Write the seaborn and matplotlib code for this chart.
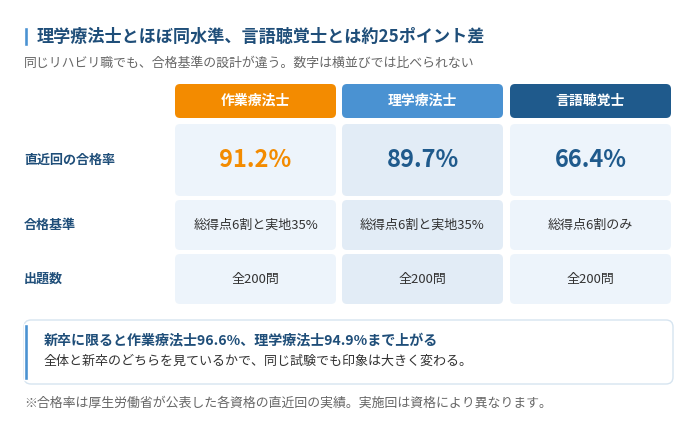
import seaborn as sns
import matplotlib.pyplot as plt
from matplotlib.patches import FancyBboxPatch, Rectangle

sns.set_style("white")
plt.rcParams['font.family'] = ['Noto Sans CJK JP', 'DejaVu Sans']

title = '理学療法士とほぼ同水準、言語聴覚士とは約25ポイント差'
subtitle = '同じリハビリ職でも、合格基準の設計が違う。数字は横並びでは比べられない'
jobs = ['作業療法士', '理学療法士', '言語聴覚士']
row_labels = ['直近回の合格率', '合格基準', '出題数']
pass_rates = [91.2, 89.7, 66.4]
criteria = ['総得点6割と実地35%', '総得点6割と実地35%', '総得点6割のみ']
questions = ['全200問', '全200問', '全200問']
note_head = '新卒に限ると作業療法士96.6%、理学療法士94.9%まで上がる'
note_body = '全体と新卒のどちらを見ているかで、同じ試験でも印象は大きく変わる。'
footnote = '※合格率は厚生労働省が公表した各資格の直近回の実績。実施回は資格により異なります。'

head_colors = ['#f38b00', '#4a92d2', '#1f5a8c']
cell_colors = ['#edf4fb', '#e2ecf6', '#edf4fb']
value_colors = ['#f38b00', '#1f5a8c', '#1f5a8c']
navy = '#1f4e79'

fig = plt.figure(figsize=(7, 4.28), dpi=100)
ax = fig.add_axes([0, 0, 1, 1])
ax.set_xlim(0, 700)
ax.set_ylim(428, 0)
ax.axis('off')


def box(x, y, w, h, color, r=5, ec='none', lw=0):
    ax.add_patch(FancyBboxPatch((x + r, y + r), w - 2 * r, h - 2 * r,
                                boxstyle=f'round,pad={r}', fc=color, ec=ec, lw=lw))


# title
ax.add_patch(Rectangle((24, 27), 3.5, 19, fc='#4a92d2'))
ax.text(37, 36.5, title, fontsize=12.3, fontweight='bold', color=navy, va='center')
ax.text(24, 63, subtitle, fontsize=9.3, color='#666666', va='center')

col_x = [175, 342, 510]
col_w = 161
rows = [(124, 72), (200, 50), (254, 50)]

for i, job in enumerate(jobs):
    x = col_x[i]
    box(x, 84, col_w, 34, head_colors[i])
    ax.text(x + col_w / 2, 101, job, fontsize=10, fontweight='bold', color='white',
            ha='center', va='center')
    for (y, h) in rows:
        box(x, y, col_w, h, cell_colors[i])
    ax.text(x + col_w / 2, 160, f'{pass_rates[i]:.1f}%', fontsize=17, fontweight='semibold',
            color=value_colors[i], ha='center', va='center')
    ax.text(x + col_w / 2, 225, criteria[i], fontsize=9.4, color='#333333',
            ha='center', va='center')
    ax.text(x + col_w / 2, 279, questions[i], fontsize=9.4, color='#333333',
            ha='center', va='center')

for (y, h), lab in zip(rows, row_labels):
    ax.text(24, y + h / 2, lab, fontsize=9.4, fontweight='bold', color=navy, va='center')

# callout
box(24, 320, 649, 64, 'white', r=7, ec='#d6e4f0', lw=1)
ax.add_patch(Rectangle((24, 324), 3.5, 56, fc='#4a92d2'))
ax.text(44, 340, note_head, fontsize=10.1, fontweight='bold', color=navy, va='center')
ax.text(44, 361, note_body, fontsize=9.4, color='#333333', va='center')

ax.text(24, 403, footnote, fontsize=9.3, color='#666666', va='center')

fig.savefig('out.png', dpi=100)
